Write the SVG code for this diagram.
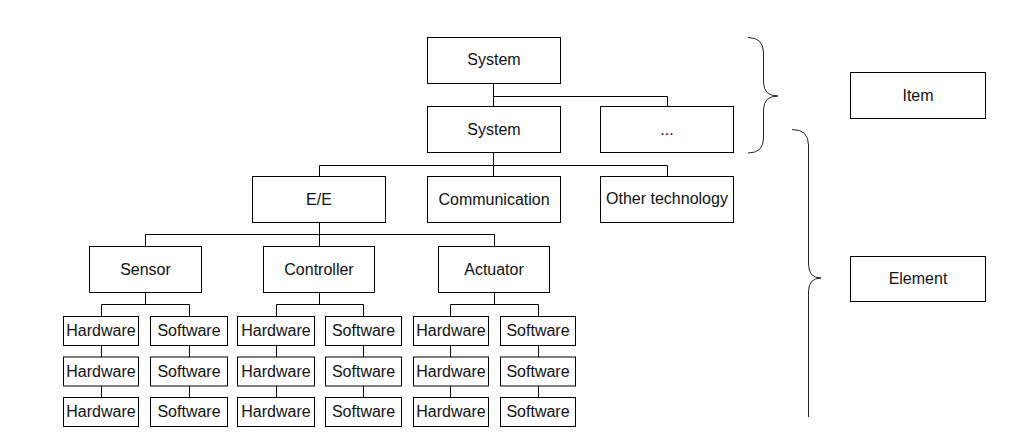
<svg xmlns="http://www.w3.org/2000/svg" width="1014" height="443" viewBox="0 0 1014 443">
<style>
rect.n{fill:#fff;stroke:#000;stroke-width:1}
text{font-family:"Liberation Sans",Arial,sans-serif;font-size:16px;fill:#111;text-anchor:middle}
.c path{fill:none;stroke:#000;stroke-width:1}
.b path{fill:none;stroke:#222;stroke-width:1}
</style>
<rect width="1014" height="443" fill="#fff"/>
<g class="c" id="connectors">
<path d="M493.5,83 V106 M493.5,96.5 H667.5 V106"/>
<path d="M493.5,153 V176 M319.5,165.5 H667.5 M319.5,165.5 V176 M667.5,165.5 V176"/>
<path d="M319.5,222 V246 M145.5,234.5 H494.5 M145.5,234.5 V246 M494.5,234.5 V246"/>
<path d="M145.5,292 V304.5 M101.5,304.5 H189.5 M101.5,304.5 V316 M189.5,304.5 V316"/>
<path d="M319.5,292 V304.5 M276.5,304.5 H363.5 M276.5,304.5 V316 M363.5,304.5 V316"/>
<path d="M494.5,292 V304.5 M450.5,304.5 H538.5 M450.5,304.5 V316 M538.5,304.5 V316"/>
<path d="M101.5,345 V357 M101.5,386 V397 M189.5,345 V357 M189.5,386 V397"/>
<path d="M276.5,345 V357 M276.5,386 V397 M363.5,345 V357 M363.5,386 V397"/>
<path d="M450.5,345 V357 M450.5,386 V397 M538.5,345 V357 M538.5,386 V397"/>
</g>
<g class="b" id="braces">
<path d="M748,37.5 Q763.5,37.5 763.5,53 L763.5,82 Q763.5,96 778,96 Q763.5,96 763.5,110 L763.5,138 Q763.5,153 748,153"/>
<path d="M792,129.5 Q808.5,129.5 808.5,145 L808.5,264 Q808.5,278 821,278 Q808.5,278 808.5,292 L808.5,417"/>
</g>
<g id="system1"><rect class="n" x="427.5" y="37.5" width="133" height="46"/><text x="494" y="65">System</text></g>
<g id="system2"><rect class="n" x="427.5" y="106.5" width="133" height="46"/><text x="494" y="134.5">System</text></g>
<g id="dots"><rect class="n" x="600.5" y="106.5" width="133" height="46"/><text x="667" y="134.5">...</text></g>
<g id="ee"><rect class="n" x="252.5" y="176.5" width="133" height="46"/><text x="319" y="205">E/E</text></g>
<g id="communication"><rect class="n" x="427.5" y="176.5" width="133" height="46"/><text x="494" y="205">Communication</text></g>
<g id="other"><rect class="n" x="600.5" y="176.5" width="133" height="46"/><text x="667" y="203.5">Other technology</text></g>
<g id="sensor"><rect class="n" x="89.5" y="246.5" width="112" height="46"/><text x="145.5" y="274.5">Sensor</text></g>
<g id="controller"><rect class="n" x="263.5" y="246.5" width="111" height="46"/><text x="319" y="274.5">Controller</text></g>
<g id="actuator"><rect class="n" x="438.5" y="246.5" width="111" height="46"/><text x="494" y="274.5">Actuator</text></g>
<g id="item"><rect class="n" x="850.5" y="72.5" width="135" height="46"/><text x="918" y="101">Item</text></g>
<g id="element"><rect class="n" x="850.5" y="256.5" width="135" height="45"/><text x="918" y="284">Element</text></g>
<g id="s-hw1"><rect class="n" x="63.5" y="316.5" width="75" height="29"/><text x="101" y="336">Hardware</text></g>
<g id="s-sw1"><rect class="n" x="150.5" y="316.5" width="77" height="29"/><text x="189" y="336">Software</text></g>
<g id="c-hw1"><rect class="n" x="237.5" y="316.5" width="77" height="29"/><text x="276" y="336">Hardware</text></g>
<g id="c-sw1"><rect class="n" x="325.5" y="316.5" width="76" height="29"/><text x="363.5" y="336">Software</text></g>
<g id="a-hw1"><rect class="n" x="413.5" y="316.5" width="75" height="29"/><text x="451" y="336">Hardware</text></g>
<g id="a-sw1"><rect class="n" x="500.5" y="316.5" width="75" height="29"/><text x="538" y="336">Software</text></g>
<g id="s-hw2"><rect class="n" x="63.5" y="357" width="75" height="29"/><text x="101" y="377">Hardware</text></g>
<g id="s-sw2"><rect class="n" x="150.5" y="357" width="77" height="29"/><text x="189" y="377">Software</text></g>
<g id="c-hw2"><rect class="n" x="237.5" y="357" width="77" height="29"/><text x="276" y="377">Hardware</text></g>
<g id="c-sw2"><rect class="n" x="325.5" y="357" width="76" height="29"/><text x="363.5" y="377">Software</text></g>
<g id="a-hw2"><rect class="n" x="413.5" y="357" width="75" height="29"/><text x="451" y="377">Hardware</text></g>
<g id="a-sw2"><rect class="n" x="500.5" y="357" width="75" height="29"/><text x="538" y="377">Software</text></g>
<g id="s-hw3"><rect class="n" x="63.5" y="397.5" width="75" height="29"/><text x="101" y="417">Hardware</text></g>
<g id="s-sw3"><rect class="n" x="150.5" y="397.5" width="77" height="29"/><text x="189" y="417">Software</text></g>
<g id="c-hw3"><rect class="n" x="237.5" y="397.5" width="77" height="29"/><text x="276" y="417">Hardware</text></g>
<g id="c-sw3"><rect class="n" x="325.5" y="397.5" width="76" height="29"/><text x="363.5" y="417">Software</text></g>
<g id="a-hw3"><rect class="n" x="413.5" y="397.5" width="75" height="29"/><text x="451" y="417">Hardware</text></g>
<g id="a-sw3"><rect class="n" x="500.5" y="397.5" width="75" height="29"/><text x="538" y="417">Software</text></g>
</svg>
